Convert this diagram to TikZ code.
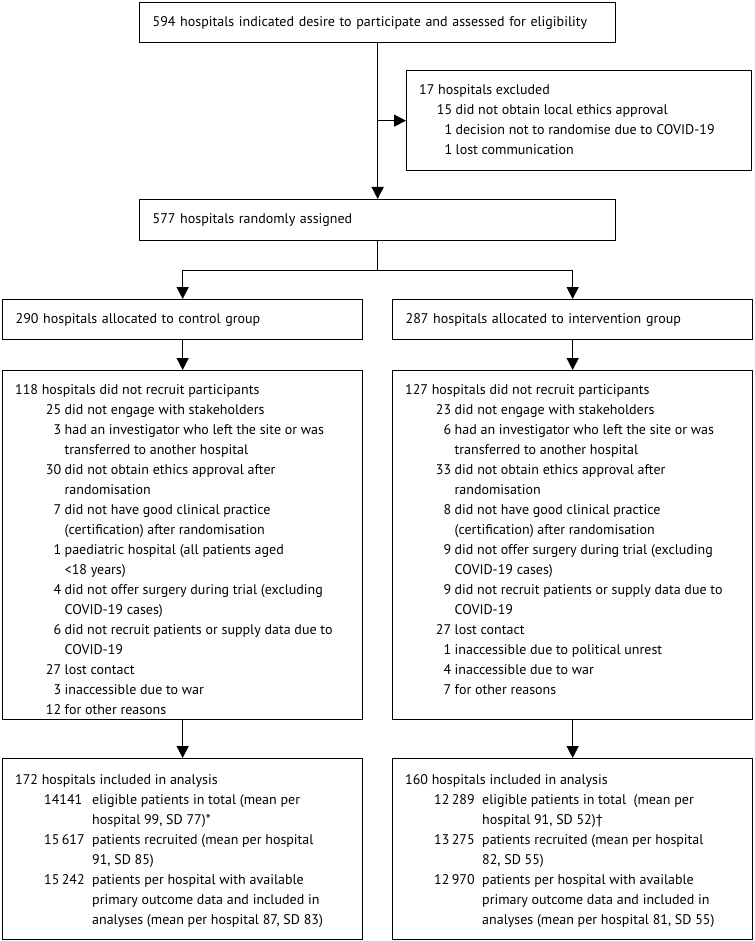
\documentclass[tikz,border=0pt]{standalone}
\usepackage{fontspec}
\setmainfont{PT Sans}
\usetikzlibrary{arrows.meta,positioning}

\tikzset{
  onebox/.style={draw, line width=1.3pt, anchor=north west, text width=#1,
    align=left, inner xsep=13pt, inner ysep=0pt, minimum height=40pt},
  frame/.style={draw, line width=1.3pt, anchor=north west, inner sep=0pt},
  boxtext/.style={align=left, inner sep=0pt},
  link/.style={line width=1.3pt},
  arr/.style={line width=1.3pt, -{Triangle[width=12pt,length=12pt]}},
}
% number right aligned in a column, then the reason
\newcommand{\why}[3]{\makebox[#1][r]{#2}\hspace{3.5pt}#3}
\newcommand{\pts}[2]{\hspace*{29pt}\makebox[48pt][l]{#1}#2}

\begin{document}
\begin{tikzpicture}[x=1pt, y=1pt, font=\fontsize{14}{20}\selectfont]
  \useasboundingbox (0,0) rectangle (754,-941);

  % enrolment
  \node[onebox=450pt] (elig) at (139,-2)
    {594 hospitals indicated desire to participate and assessed for eligibility};
  \node[frame, minimum width=345pt, minimum height=100pt] (excl) at (406,-70) {};
  \node[boxtext, below right=14pt and 13pt of excl.north west] (excltxt) {%
    17 hospitals excluded\\
    \why{33pt}{15}{did not obtain local ethics approval}\\
    \why{33pt}{1}{decision not to randomise due to COVID-19}\\
    \why{33pt}{1}{lost communication}};
  \node[onebox=450pt, minimum height=41pt] (rand) at (139,-199)
    {577 hospitals randomly assigned};

  % allocation
  \node[onebox=334pt] (ctrl) at (2,-299) {290 hospitals allocated to control group};
  \node[onebox=334pt] (intv) at (392,-299) {287 hospitals allocated to intervention group};

  % follow-up
  \node[frame, minimum width=360pt, minimum height=349pt] (ctrlno) at (2,-370) {};
  \node[boxtext, below right=14pt and 13pt of ctrlno.north west] (ctrlnotxt) {%
    118 hospitals did not recruit participants\\
    \why{46pt}{25}{did not engage with stakeholders}\\
    \why{46pt}{3}{had an investigator who left the site or was}\\
    \hspace*{49.5pt}transferred to another hospital\\
    \why{46pt}{30}{did not obtain ethics approval after}\\
    \hspace*{49.5pt}randomisation\\
    \why{46pt}{7}{did not have good clinical practice}\\
    \hspace*{49.5pt}(certification) after randomisation\\
    \why{46pt}{1}{paediatric hospital (all patients aged}\\
    \hspace*{49.5pt}<18 years)\\
    \why{46pt}{4}{did not offer surgery during trial (excluding}\\
    \hspace*{49.5pt}COVID-19 cases)\\
    \why{46pt}{6}{did not recruit patients or supply data due to}\\
    \hspace*{49.5pt}COVID-19\\
    \why{46pt}{27}{lost contact}\\
    \why{46pt}{3}{inaccessible due to war}\\
    \why{46pt}{12}{for other reasons}};
  \node[frame, minimum width=360pt, minimum height=349pt] (intvno) at (392,-370) {};
  \node[boxtext, below right=14pt and 13pt of intvno.north west] (intvnotxt) {%
    127 hospitals did not recruit participants\\
    \why{46pt}{23}{did not engage with stakeholders}\\
    \why{46pt}{6}{had an investigator who left the site or was}\\
    \hspace*{49.5pt}transferred to another hospital\\
    \why{46pt}{33}{did not obtain ethics approval after}\\
    \hspace*{49.5pt}randomisation\\
    \why{46pt}{8}{did not have good clinical practice}\\
    \hspace*{49.5pt}(certification) after randomisation\\
    \why{46pt}{9}{did not offer surgery during trial (excluding}\\
    \hspace*{49.5pt}COVID-19 cases)\\
    \why{46pt}{9}{did not recruit patients or supply data due to}\\
    \hspace*{49.5pt}COVID-19\\
    \why{46pt}{27}{lost contact}\\
    \why{46pt}{1}{inaccessible due to political unrest}\\
    \why{46pt}{4}{inaccessible due to war}\\
    \why{46pt}{7}{for other reasons}};

  % analysis
  \node[frame, minimum width=360pt, minimum height=181pt] (ctrlin) at (2,-758) {};
  \node[boxtext, below right=16pt and 13pt of ctrlin.north west] (ctrlintxt) {%
    172 hospitals included in analysis\\
    \pts{14141}{eligible patients in total (mean per}\\
    \hspace*{77pt}hospital 99, SD 77)*\\
    \pts{15\,617}{patients recruited (mean per hospital}\\
    \hspace*{77pt}91, SD 85)\\
    \pts{15\,242}{patients per hospital with available}\\
    \hspace*{77pt}primary outcome data and included in\\
    \hspace*{77pt}analyses (mean per hospital 87, SD 83)};
  \node[frame, minimum width=360pt, minimum height=181pt] (intvin) at (392,-758) {};
  \node[boxtext, below right=16pt and 13pt of intvin.north west] (intvintxt) {%
    160 hospitals included in analysis\\
    \pts{12\,289}{eligible patients in total~ (mean per}\\
    \hspace*{77pt}hospital 91, SD 52)\dag\\
    \pts{13\,275}{patients recruited (mean per hospital}\\
    \hspace*{77pt}82, SD 55)\\
    \pts{12\,970}{patients per hospital with available}\\
    \hspace*{77pt}primary outcome data and included in\\
    \hspace*{77pt}analyses (mean per hospital 81, SD 55)};

  % connectors
  \coordinate (branch) at (elig.south |- excl.west);
  \coordinate[below=29pt of rand.south] (split);
  \draw[arr] (elig.south) -- (rand.north);
  \draw[arr] (branch) -- (excl.west);
  \draw[link] (rand.south) -- (split);
  \draw[arr] (split) -| (ctrl.north);
  \draw[arr] (split) -| (intv.north);
  \draw[arr] (ctrl.south) -- (ctrlno.north);
  \draw[arr] (intv.south) -- (intvno.north);
  \draw[arr] (ctrlno.south) -- (ctrlin.north);
  \draw[arr] (intvno.south) -- (intvin.north);
\end{tikzpicture}
\end{document}
